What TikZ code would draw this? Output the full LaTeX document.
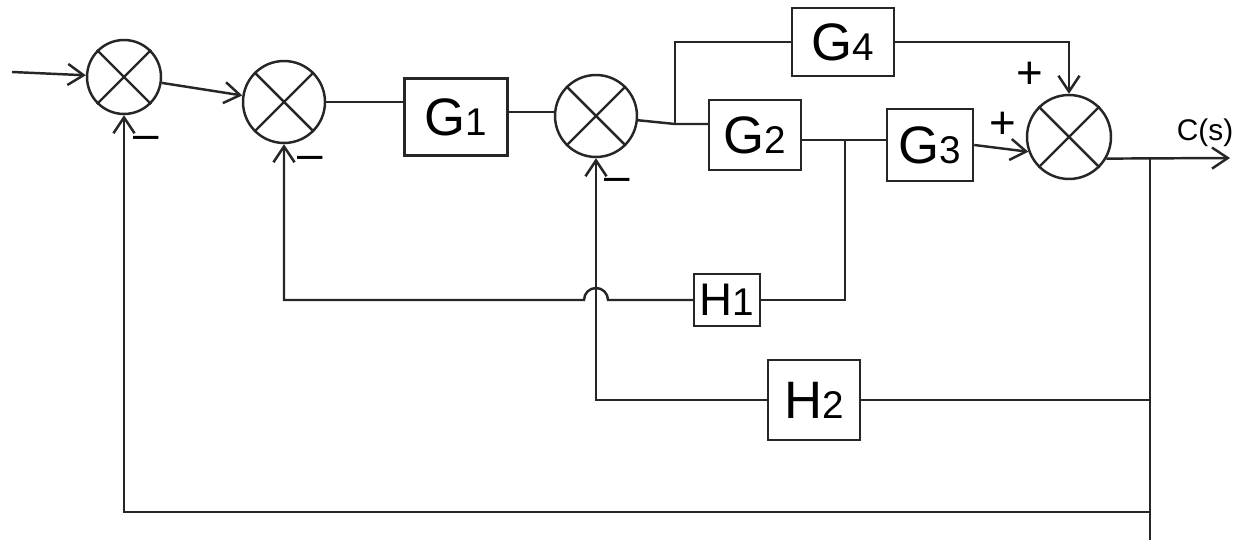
\documentclass[tikz,border=0pt]{standalone}
\usepackage{fontspec}
\setmainfont{Liberation Sans}
\usetikzlibrary{arrows.meta,calc}

\newcommand{\blkidx}[1]{{\fontsize{22}{24}\selectfont #1}}

\begin{document}
\begin{tikzpicture}[
  x=0.02cm, y=-0.02cm,
  line width=1.4pt, draw=black!85,
  sumj/.style={draw, circle, inner sep=0pt},
  blk/.style={draw, inner sep=0pt, font=\fontsize{30}{34}\selectfont},
  sgn/.style={font=\fontsize{26}{28}\selectfont},
  arr/.style={-{Straight Barb[length=9pt, width=12pt, line width=1.4pt]}}
]
\useasboundingbox[fill=white] (0,0) rectangle (1241,546);

% summing junctions
\node[sumj, minimum size=1.48cm] (s1) at (124,77) {};
\node[sumj, minimum size=1.64cm] (s2) at (284,102) {};
\node[sumj, minimum size=1.64cm] (s3) at (596,116) {};
\node[sumj, minimum size=1.68cm] (s4) at (1069,137) {};
\foreach \s in {s1,s2,s3,s4}
  \draw (\s.north west) -- (\s.south east) (\s.north east) -- (\s.south west);

% blocks
\node[blk, minimum width=2.06cm, minimum height=1.54cm] (g1) at (456,117) {G\blkidx{1}};
\node[blk, minimum width=1.84cm, minimum height=1.40cm] (g2) at (755,135) {G\blkidx{2}};
\node[blk, minimum width=2.04cm, minimum height=1.36cm] (g4) at (843,42) {G\blkidx{4}};
\node[blk, minimum width=1.72cm, minimum height=1.44cm] (g3) at (930,145) {G\blkidx{3}};
\node[blk, minimum width=1.32cm, minimum height=1.04cm, font=\fontsize{26}{30}\selectfont] (h1) at (727,300) {H\blkidx{1}};
\node[blk, minimum width=1.84cm, minimum height=1.60cm] (h2) at (814,400) {H\blkidx{2}};

% points on the lines
\coordinate (in) at (12,72);
\coordinate (b1) at (675,124);
\coordinate (b2) at (845,140);
\coordinate (b3) at (1150,158);
\coordinate (out) at (1230,158);
\coordinate (rb) at (1150,540);
\coordinate (lb) at (124,512);

% forward path
\draw[arr] (in) -- (s1);
\draw[arr] (s1) -- (s2);
\draw (s2) -- (g1.west |- s2);
\draw (g1.east |- 0,112) -- (s3.west |- 0,112);
\draw (s3) -- (b1) -- (b1 -| g2.west);
\draw (b1) |- (g4.west);
\draw (g2.east |- b2) -- (g3.west |- b2);
\draw[arr] (g3.east) -- (s4.200);
\draw[arr] (g4.east) -| (s4.north);
\draw[arr] (s4.-30) -- (out);

% feedback paths
\draw (b2) |- (h1.east);
\draw[arr] (h1.west) -- ($(s3.south |- h1.west)+(12,0)$)
  arc[start angle=0, end angle=180, radius=0.24cm]
  -- (s2.south |- h1.west) -- (s2.south);
\draw (b3) -- (rb);
\draw (h2.east) -- (h2.east -| rb);
\draw[arr] (h2.west) -| (s3.south);
\draw[arr] (rb |- lb) -- (lb) -- (s1.south);

% signs and output label
\node[sgn] (m1) at (146,143) {–};
\node[sgn] (m2) at (310,163) {–};
\node[sgn] (m3) at (617,185) {–};
\node[sgn] (p1) at (1030,75) {+};
\node[sgn] (p2) at (1003,125) {+};
\node[font=\fontsize{17}{20}\selectfont] (cs) at (1205,133) {C(s)};
\end{tikzpicture}
\end{document}
